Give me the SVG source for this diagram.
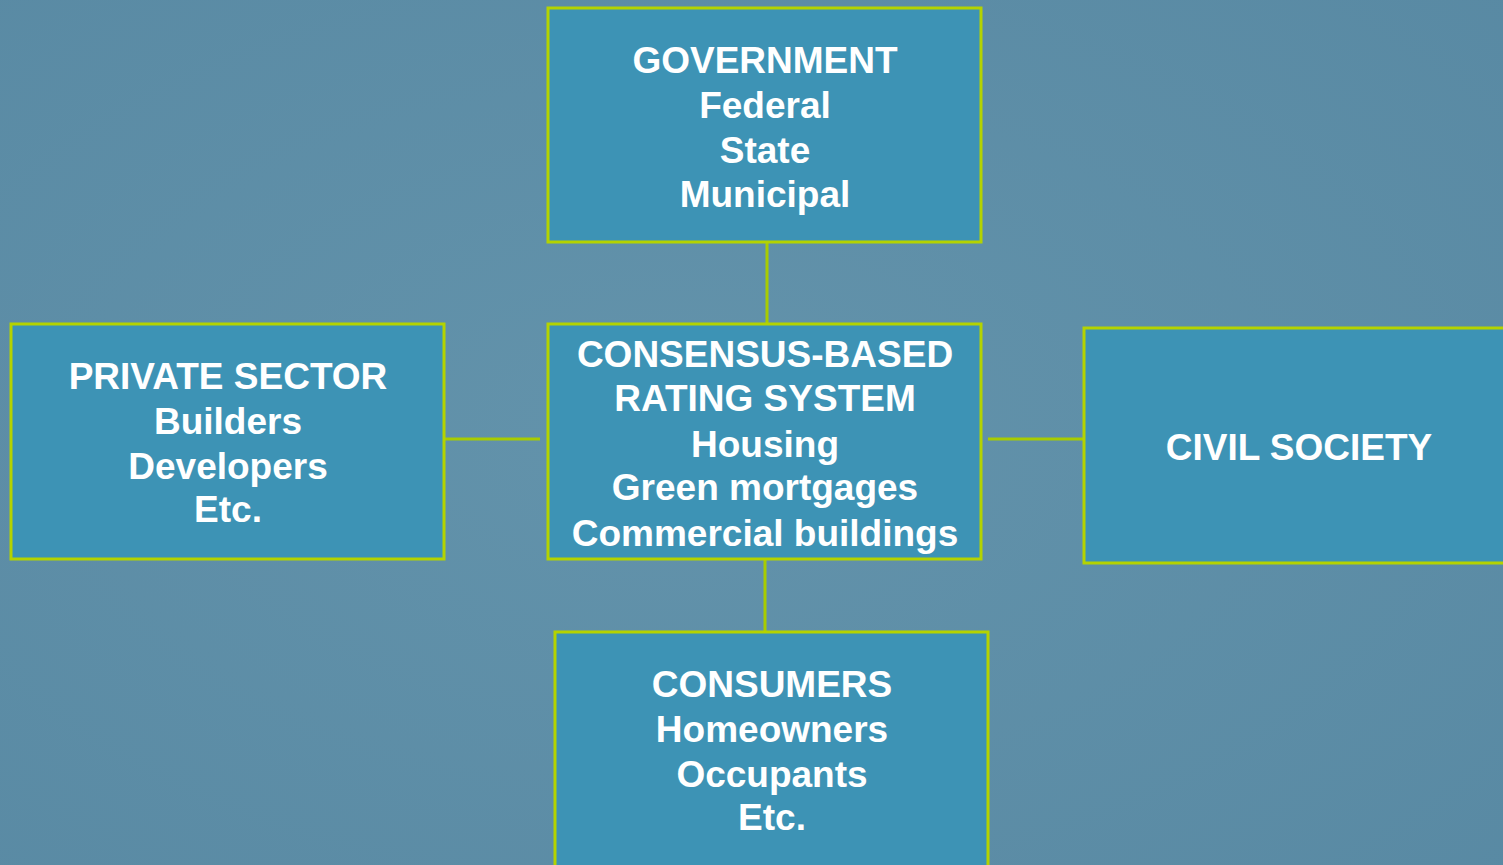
<svg xmlns="http://www.w3.org/2000/svg" width="1503" height="865" viewBox="0 0 1503 865">
<defs>
<radialGradient id="bg" cx="0.45" cy="0.5" r="0.8">
<stop offset="0" stop-color="#6393ab"/>
<stop offset="1" stop-color="#5889a3"/>
</radialGradient>
<style>
.box{fill:#3d93b5;stroke:#b4d300;stroke-width:3}
.con{stroke:#a8cc00;stroke-width:3;fill:none}
text{font-family:"Liberation Sans",Arial,sans-serif;font-weight:bold;font-size:37px;fill:#ffffff;text-anchor:middle}
</style>
</defs>
<rect width="1503" height="865" fill="url(#bg)"/>
<g id="connectors">
<line class="con" x1="767" y1="242" x2="767" y2="324"/>
<line class="con" x1="444" y1="439" x2="540" y2="439"/>
<line class="con" x1="988" y1="439" x2="1084" y2="439"/>
<line class="con" x1="765" y1="559" x2="765" y2="637"/>
</g>
<g id="government">
<rect class="box" x="548" y="8" width="433" height="234"/>
<text x="765" y="73">GOVERNMENT</text>
<text x="765" y="118">Federal</text>
<text x="765" y="163">State</text>
<text x="765" y="207">Municipal</text>
</g>
<g id="private-sector">
<rect class="box" x="11" y="324" width="433" height="235"/>
<text x="228" y="389">PRIVATE SECTOR</text>
<text x="228" y="434">Builders</text>
<text x="228" y="479">Developers</text>
<text x="228" y="522">Etc.</text>
</g>
<g id="rating-system">
<rect class="box" x="548" y="324" width="433" height="235"/>
<text x="765" y="367">CONSENSUS-BASED</text>
<text x="765" y="411">RATING SYSTEM</text>
<text x="765" y="457">Housing</text>
<text x="765" y="500">Green mortgages</text>
<text x="765" y="546">Commercial buildings</text>
</g>
<g id="civil-society">
<rect class="box" x="1084" y="328" width="440" height="235"/>
<text x="1299" y="460">CIVIL SOCIETY</text>
</g>
<g id="consumers">
<rect class="box" x="555" y="632" width="433" height="250"/>
<text x="772" y="697">CONSUMERS</text>
<text x="772" y="742">Homeowners</text>
<text x="772" y="787">Occupants</text>
<text x="772" y="830">Etc.</text>
</g>
</svg>
